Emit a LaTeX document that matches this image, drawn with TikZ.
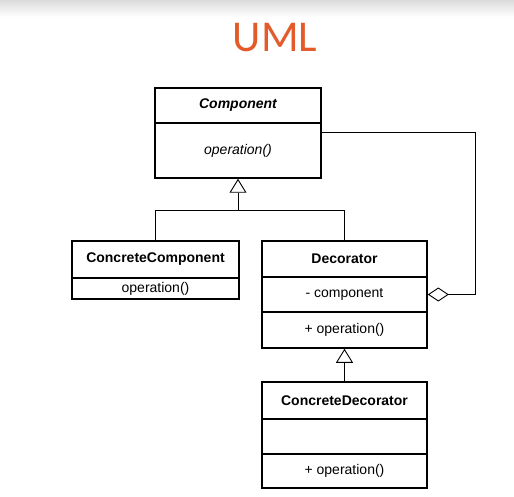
\documentclass[tikz,border=0pt]{standalone}
\usepackage{fontspec}
\setmainfont{Liberation Sans}
\newfontfamily\titlefont{Carlito}
\usetikzlibrary{arrows.meta}
\definecolor{umlorange}{HTML}{E35B2A}

\begin{document}
\begin{tikzpicture}[x=1pt,y=-1pt,
  part/.style={draw,line width=1.5pt,inner sep=0pt,minimum width=166pt,font=\fontsize{14}{16}\selectfont},
  partname/.style={part,font=\fontsize{14}{16}\selectfont\bfseries},
  inherit/.style={line width=0.9pt,-{Triangle[open,width=17pt,length=14pt]}},
  aggregate/.style={line width=0.9pt,{Diamond[open,width=14pt,length=21pt]}-}]
\useasboundingbox (0,0) rectangle (514,497);
\fill[top color=gray!28,bottom color=white] (0,0) rectangle (514,17);

\node[text=umlorange,font=\titlefont\fontsize{44}{48}\selectfont] (title) at (275,38) {UML};

% Component
\node[partname,minimum height=35pt,font=\fontsize{14}{16}\selectfont\bfseries\itshape] (compname) at (238,105.5) {Component};
\node[part,minimum height=55pt,font=\fontsize{14}{16}\selectfont\itshape] (compops) at (238,150.5) {operation()};

% ConcreteComponent
\node[partname,minimum width=167pt,minimum height=37pt] (ccname) at (155.5,259.5) {ConcreteComponent};
\node[part,minimum width=167pt,minimum height=21pt] (ccops) at (155.5,288.5) {operation()};

% Decorator
\node[partname,minimum width=165pt,minimum height=36pt] (decname) at (344.5,259) {Decorator};
\node[part,minimum width=165pt,minimum height=35pt] (decattr) at (344.5,294.5) {- component};
\node[part,minimum width=165pt,minimum height=36pt] (decops) at (344.5,330) {+ operation()};

% ConcreteDecorator
\node[partname,minimum width=165pt,minimum height=37pt] (cdecname) at (344.5,400.5) {ConcreteDecorator};
\node[part,minimum width=165pt,minimum height=35pt] (cdecattr) at (344.5,436.5) {};
\node[part,minimum width=165pt,minimum height=34pt] (cdecops) at (344.5,471) {+ operation()};

\coordinate (split) at (238,210);
\draw[inherit] (ccname.north) |- (split) -- (compops.south);
\draw[line width=0.9pt] (decname.north) |- (split);
\draw[inherit] (cdecname.north) -- (decops.south);

\coordinate (aggturn) at (475,132);
\draw[aggregate] (decattr.east) -| (aggturn) -- (aggturn -| compops.east);

\end{tikzpicture}
\end{document}
